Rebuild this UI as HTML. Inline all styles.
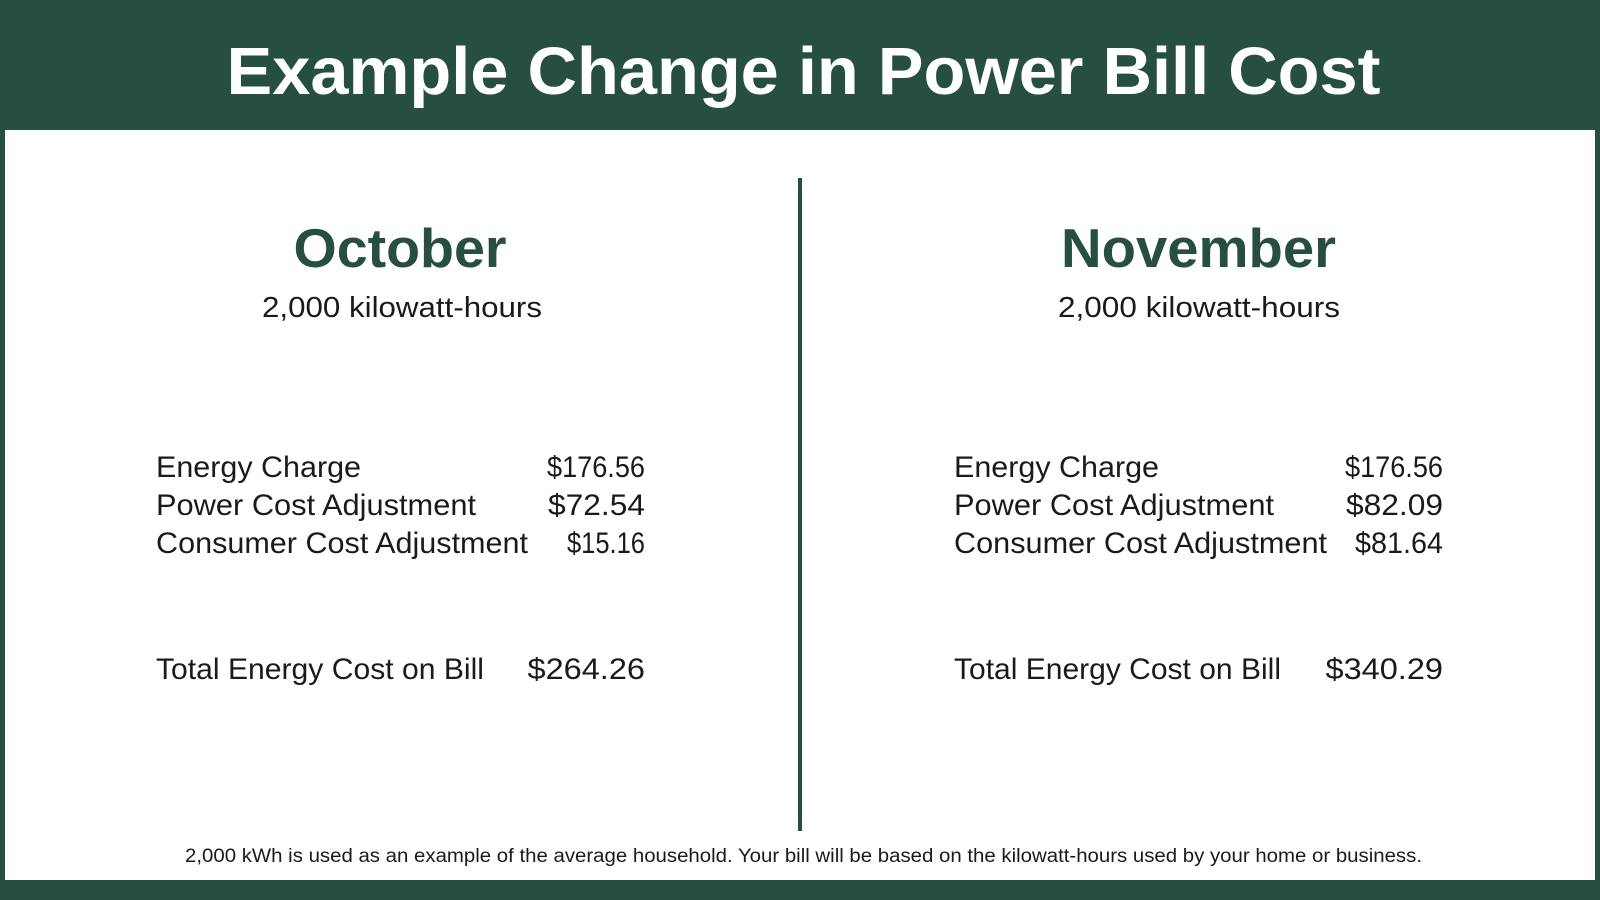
<!DOCTYPE html>
<html>
<head>
<meta charset="utf-8">
<style>
  html, body { margin: 0; padding: 0; background: #264f3f; }
  svg { display: block; }
  text { font-family: "Liberation Sans", sans-serif; }
</style>
</head>
<body>
<svg width="1600" height="900" viewBox="0 0 1600 900" xmlns="http://www.w3.org/2000/svg">
  <rect x="0" y="0" width="1600" height="900" fill="#264f3f"/>
  <rect x="5" y="130" width="1590" height="750" fill="#ffffff"/>
  <rect x="798" y="178" width="4" height="653" fill="#264f3f"/>

  <!-- Title -->
  <text x="226.5" y="94" font-size="67" font-weight="bold" fill="#ffffff" textLength="1154" lengthAdjust="spacingAndGlyphs">Example Change in Power Bill Cost</text>

  <!-- Month headers -->
  <text x="293.5" y="267" font-size="55" font-weight="bold" fill="#264f3f" textLength="213" lengthAdjust="spacingAndGlyphs">October</text>
  <text x="1061" y="267" font-size="55" font-weight="bold" fill="#264f3f" textLength="275" lengthAdjust="spacingAndGlyphs">November</text>

  <text x="262" y="317" font-size="29" fill="#1a1a1a" textLength="280" lengthAdjust="spacingAndGlyphs">2,000 kilowatt-hours</text>
  <text x="1058" y="317" font-size="29" fill="#1a1a1a" textLength="282" lengthAdjust="spacingAndGlyphs">2,000 kilowatt-hours</text>

  <!-- Left column -->
  <text x="156" y="477" font-size="30" fill="#1a1a1a" textLength="205" lengthAdjust="spacingAndGlyphs">Energy Charge</text>
  <text x="156" y="515" font-size="30" fill="#1a1a1a" textLength="320" lengthAdjust="spacingAndGlyphs">Power Cost Adjustment</text>
  <text x="156" y="553" font-size="30" fill="#1a1a1a" textLength="372" lengthAdjust="spacingAndGlyphs">Consumer Cost Adjustment</text>
  <text x="156" y="679" font-size="30" fill="#1a1a1a" textLength="328" lengthAdjust="spacingAndGlyphs">Total Energy Cost on Bill</text>

  <text x="547" y="477" font-size="30" fill="#1a1a1a" textLength="98" lengthAdjust="spacingAndGlyphs">$176.56</text>
  <text x="548" y="515" font-size="30" fill="#1a1a1a" textLength="97" lengthAdjust="spacingAndGlyphs">$72.54</text>
  <text x="567" y="553" font-size="30" fill="#1a1a1a" textLength="78" lengthAdjust="spacingAndGlyphs">$15.16</text>
  <text x="527.5" y="679" font-size="30" fill="#1a1a1a" textLength="117.5" lengthAdjust="spacingAndGlyphs">$264.26</text>

  <!-- Right column -->
  <text x="954" y="477" font-size="30" fill="#1a1a1a" textLength="205" lengthAdjust="spacingAndGlyphs">Energy Charge</text>
  <text x="954" y="515" font-size="30" fill="#1a1a1a" textLength="320" lengthAdjust="spacingAndGlyphs">Power Cost Adjustment</text>
  <text x="954" y="553" font-size="30" fill="#1a1a1a" textLength="373" lengthAdjust="spacingAndGlyphs">Consumer Cost Adjustment</text>
  <text x="954" y="679" font-size="30" fill="#1a1a1a" textLength="327" lengthAdjust="spacingAndGlyphs">Total Energy Cost on Bill</text>

  <text x="1345" y="477" font-size="30" fill="#1a1a1a" textLength="98" lengthAdjust="spacingAndGlyphs">$176.56</text>
  <text x="1346" y="515" font-size="30" fill="#1a1a1a" textLength="97" lengthAdjust="spacingAndGlyphs">$82.09</text>
  <text x="1355" y="553" font-size="30" fill="#1a1a1a" textLength="88" lengthAdjust="spacingAndGlyphs">$81.64</text>
  <text x="1325.5" y="679" font-size="30" fill="#1a1a1a" textLength="117.5" lengthAdjust="spacingAndGlyphs">$340.29</text>

  <!-- Footer -->
  <text x="185" y="862" font-size="19" fill="#1a1a1a" textLength="1237" lengthAdjust="spacingAndGlyphs">2,000 kWh is used as an example of the average household. Your bill will be based on the kilowatt-hours used by your home or business.</text>
</svg>
</body>
</html>
